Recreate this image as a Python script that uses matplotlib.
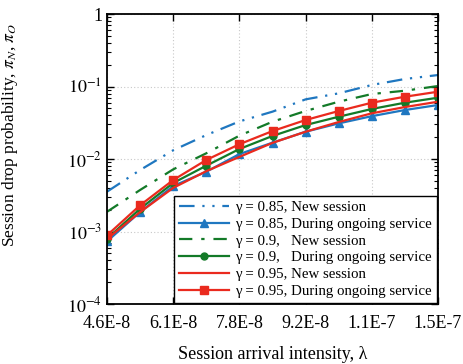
import matplotlib
matplotlib.use("Agg")
import matplotlib.pyplot as plt
import numpy as np

plt.rcParams['font.family'] = ['Liberation Serif', 'DejaVu Serif']
plt.rcParams['mathtext.fontset'] = 'stix'

x_labels = ["4.6E-8", "6.1E-8", "7.8E-8", "9.2E-8", "1.1E-7", "1.5E-7"]
x_idx = np.arange(11)

new_085 = [3.54e-3, 7.05e-3, 1.32e-2, 2.14e-2, 3.3e-2, 4.5e-2, 6.65e-2, 8.05e-2, 1.05e-1, 1.27e-1, 1.44e-1]
ong_085 = [7.3e-4, 1.86e-3, 4.24e-3, 6.68e-3, 1.17e-2, 1.68e-2, 2.38e-2, 3.1e-2, 3.9e-2, 4.74e-2, 5.56e-2]
new_09 = [1.87e-3, 3.74e-3, 7.2e-3, 1.2e-2, 2.1e-2, 3.27e-2, 4.6e-2, 6.17e-2, 7.88e-2, 8.75e-2, 1.016e-1]
ong_09 = [7.96e-4, 2.06e-3, 4.67e-3, 8.09e-3, 1.374e-2, 2.08e-2, 2.94e-2, 3.83e-2, 4.9e-2, 5.98e-2, 7.01e-2]
new_095 = [7.9e-4, 1.85e-3, 4.0e-3, 6.8e-3, 1.07e-2, 1.67e-2, 2.38e-2, 3.24e-2, 4.27e-2, 5.21e-2, 6.17e-2]
ong_095 = [8.85e-4, 2.3e-3, 5.13e-3, 9.7e-3, 1.6e-2, 2.43e-2, 3.45e-2, 4.59e-2, 5.98e-2, 7.23e-2, 8.48e-2]

labels = ["γ = 0.85, New session",
          "γ = 0.85, During ongoing service",
          "γ = 0.9,   New session",
          "γ = 0.9,   During ongoing service",
          "γ = 0.95, New session",
          "γ = 0.95, During ongoing service"]

blue = '#1f77c0'
green = '#137a28'
red = '#ea2a1e'

fig = plt.figure(figsize=(4.64, 3.64), dpi=100)
ax = fig.add_axes([0.2306, 0.1648, 0.7134, 0.7967])

lw = 1.6
ax.plot(x_idx, new_085, color=blue, lw=lw, dashes=(7, 3.5, 1, 3.5, 1, 3.5), label=labels[0])
ax.plot(x_idx, ong_085, color=blue, lw=lw, marker='^', ms=5.5, label=labels[1])
ax.plot(x_idx, new_09, color=green, lw=lw, dashes=(6, 4, 1.5, 4), label=labels[2])
ax.plot(x_idx, ong_09, color=green, lw=lw, marker='o', ms=5, label=labels[3])
ax.plot(x_idx, new_095, color=red, lw=lw, label=labels[4])
ax.plot(x_idx, ong_095, color=red, lw=lw, marker='s', ms=5.5, label=labels[5])

ax.set_yscale('log')
ax.set_ylim(1e-4, 1)
ax.set_xlim(0, 10)
ax.set_xticks(np.arange(0, 11, 2))
ax.set_xticklabels(x_labels)
ax.set_yticks([1e-4, 1e-3, 1e-2, 1e-1, 1])
ax.set_yticklabels([r'$10^{-4}$', r'$10^{-3}$', r'$10^{-2}$', r'$10^{-1}$', '1'])
ax.tick_params(axis='both', which='both', direction='in', top=True, right=True, labelsize=13)
ax.tick_params(axis='both', which='major', length=5, width=1)
ax.tick_params(axis='y', which='minor', length=3, width=0.8)
ax.tick_params(axis='x', which='major', pad=8)
ax.grid(True, which='major', linestyle=(0, (1, 2)), color='#c8c8c8', lw=0.8)
for s in ax.spines.values():
    s.set_linewidth(1.3)

ax.set_xlabel("Session arrival intensity, λ", fontsize=13, labelpad=10)
ax.set_ylabel(r"Session drop probability, $\pi_N$, $\pi_O$", fontsize=12.5)
ax.yaxis.set_label_coords(-0.263, 0.583)

leg = ax.legend(loc='lower right', fontsize=10.7, fancybox=False, edgecolor='black',
                framealpha=1, borderaxespad=0.1, labelspacing=0.23, handlelength=3.4,
                handletextpad=0.4, borderpad=0.3)
leg.get_frame().set_linewidth(1.0)

fig.savefig("out.png", dpi=100)
